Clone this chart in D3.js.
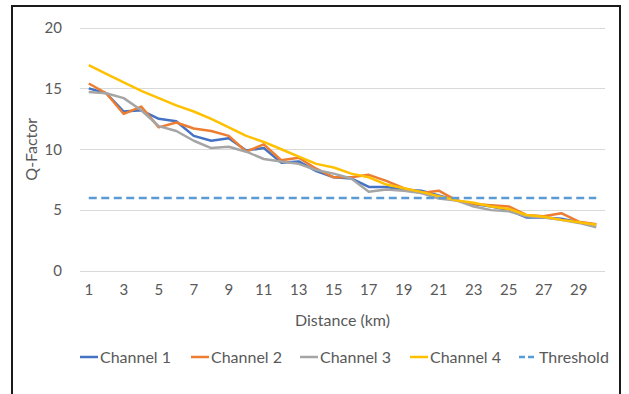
<!DOCTYPE html>
<html>
<head>
<meta charset="utf-8">
<script src="https://cdn.jsdelivr.net/npm/d3@7"></script>
<style>
  html, body { margin: 0; padding: 0; background: #fff; }
  svg { display: block; font-family: Lato, "Open Sans", sans-serif; }
</style>
</head>
<body>
<svg id="chart" width="629" height="394"></svg>
<script>
// Distance in km (categories)
const distances = d3.range(1, 31);
const xTickLabels = d3.range(1, 31, 2);
const yTicks = [0, 5, 10, 15, 20];

// Q-factor per channel along the link
const channel1 = [15.0, 14.6, 13.1, 13.2, 12.5, 12.3, 11.1, 10.7, 10.9, 9.9,
                  10.1, 8.9, 9.0, 8.2, 7.7, 7.6, 6.9, 6.9, 6.7, 6.6,
                  6.2, 5.8, 5.5, 5.3, 5.0, 4.4, 4.4, 4.3, 4.0, 3.8];
const channel2 = [15.4, 14.6, 12.9, 13.5, 11.8, 12.2, 11.7, 11.5, 11.1, 9.8,
                  10.4, 9.1, 9.3, 8.4, 7.7, 7.7, 7.9, 7.4, 6.8, 6.4,
                  6.6, 5.8, 5.5, 5.4, 5.3, 4.6, 4.5, 4.75, 4.05, 3.85];
const channel3 = [14.7, 14.6, 14.2, 13.2, 11.9, 11.5, 10.7, 10.1, 10.2, 9.8,
                  9.2, 9.0, 8.8, 8.3, 8.0, 7.6, 6.5, 6.7, 6.6, 6.4,
                  5.95, 5.8, 5.3, 5.0, 4.9, 4.5, 4.4, 4.2, 3.95, 3.6];
const channel4 = [16.9, 16.2, 15.5, 14.8, 14.2, 13.6, 13.1, 12.5, 11.8, 11.1,
                  10.6, 10.0, 9.4, 8.8, 8.5, 8.0, 7.7, 7.1, 6.8, 6.5,
                  6.15, 5.8, 5.6, 5.3, 5.1, 4.6, 4.45, 4.2, 4.0, 3.8];
const threshold = distances.map(() => 6);

const seriesNames = ["Channel 1", "Channel 2", "Channel 3", "Channel 4", "Threshold"];
const seriesColors = ["#4472C4", "#ED7D31", "#A5A5A5", "#FFC000", "#5B9BD5"];

const series = [channel1, channel2, channel3, channel4, threshold].map((vals, i) => ({
  name: seriesNames[i],
  color: seriesColors[i],
  dashed: seriesNames[i] === "Threshold",
  values: vals.map((v, j) => ({ d: distances[j], v }))
}));

const svg = d3.select("#chart");

// outer frame
svg.append("rect")
  .attr("x", 12).attr("y", 6)
  .attr("width", 608).attr("height", 400)
  .attr("fill", "none").attr("stroke", "#1a1a1a").attr("stroke-width", 2);

const plot = { left: 80, right: 605, top: 27.5, bottom: 271 };

const x = d3.scaleBand()
  .domain(distances)
  .range([plot.left, plot.right])
  .padding(0);
const xc = d => x(d) + x.bandwidth() / 2;

const y = d3.scaleLinear()
  .domain([0, 20])
  .range([plot.bottom, plot.top]);

// horizontal gridlines
svg.append("g")
  .selectAll("line")
  .data(yTicks)
  .join("line")
  .attr("x1", plot.left).attr("x2", plot.right)
  .attr("y1", d => Math.round(y(d)) + 0.5).attr("y2", d => Math.round(y(d)) + 0.5)
  .attr("stroke", "#D9D9D9").attr("stroke-width", 1);

// y axis labels
const yAxis = d3.axisLeft(y).tickValues(yTicks).tickSize(0).tickPadding(0);
svg.append("g")
  .attr("transform", `translate(62,0)`)
  .call(yAxis)
  .call(g => g.select(".domain").remove())
  .call(g => g.selectAll("text")
    .attr("fill", "#595959")
    .style("font-size", "15px")
    .style("font-family", "Lato, sans-serif"));

// x axis labels (every other category)
const xAxis = d3.axisBottom(x).tickValues(xTickLabels).tickSize(0).tickPadding(0);
svg.append("g")
  .attr("transform", `translate(0,${plot.bottom + 13})`)
  .call(xAxis)
  .call(g => g.select(".domain").remove())
  .call(g => g.selectAll("text")
    .attr("fill", "#595959")
    .style("font-size", "15px")
    .style("font-family", "Lato, sans-serif"));

// axis titles
svg.append("text")
  .attr("x", (plot.left + plot.right) / 2 + 0)
  .attr("y", 326)
  .attr("text-anchor", "middle")
  .attr("fill", "#595959")
  .style("font-size", "16px")
  .text("Distance (km)");

svg.append("text")
  .attr("transform", `translate(37,${(plot.top + plot.bottom) / 2}) rotate(-90)`)
  .attr("text-anchor", "middle")
  .attr("fill", "#595959")
  .style("font-size", "16px")
  .text("Q-Factor");

// series lines
const line = d3.line()
  .x(p => xc(p.d))
  .y(p => y(p.v));

svg.append("g")
  .selectAll("path")
  .data(series)
  .join("path")
  .attr("d", s => line(s.values))
  .attr("fill", "none")
  .attr("stroke", s => s.color)
  .attr("stroke-width", 2.5)
  .attr("stroke-linejoin", "round")
  .attr("stroke-dasharray", s => s.dashed ? "8,4.5" : null);

// legend
const legendX = [80, 191, 300, 410, 519];
const legend = svg.append("g").attr("transform", "translate(0,357)");
const items = legend.selectAll("g")
  .data(series)
  .join("g")
  .attr("transform", (s, i) => `translate(${legendX[i]},0)`);
items.append("line")
  .attr("x1", 0).attr("x2", 18)
  .attr("y1", 0).attr("y2", 0)
  .attr("stroke", s => s.color)
  .attr("stroke-width", 2.5)
  .attr("stroke-dasharray", s => s.dashed ? "6,3" : null);
items.append("text")
  .attr("x", 20)
  .attr("y", 5.5)
  .attr("fill", "#595959")
  .style("font-size", "16px")
  .text(s => s.name);
</script>
</body>
</html>
